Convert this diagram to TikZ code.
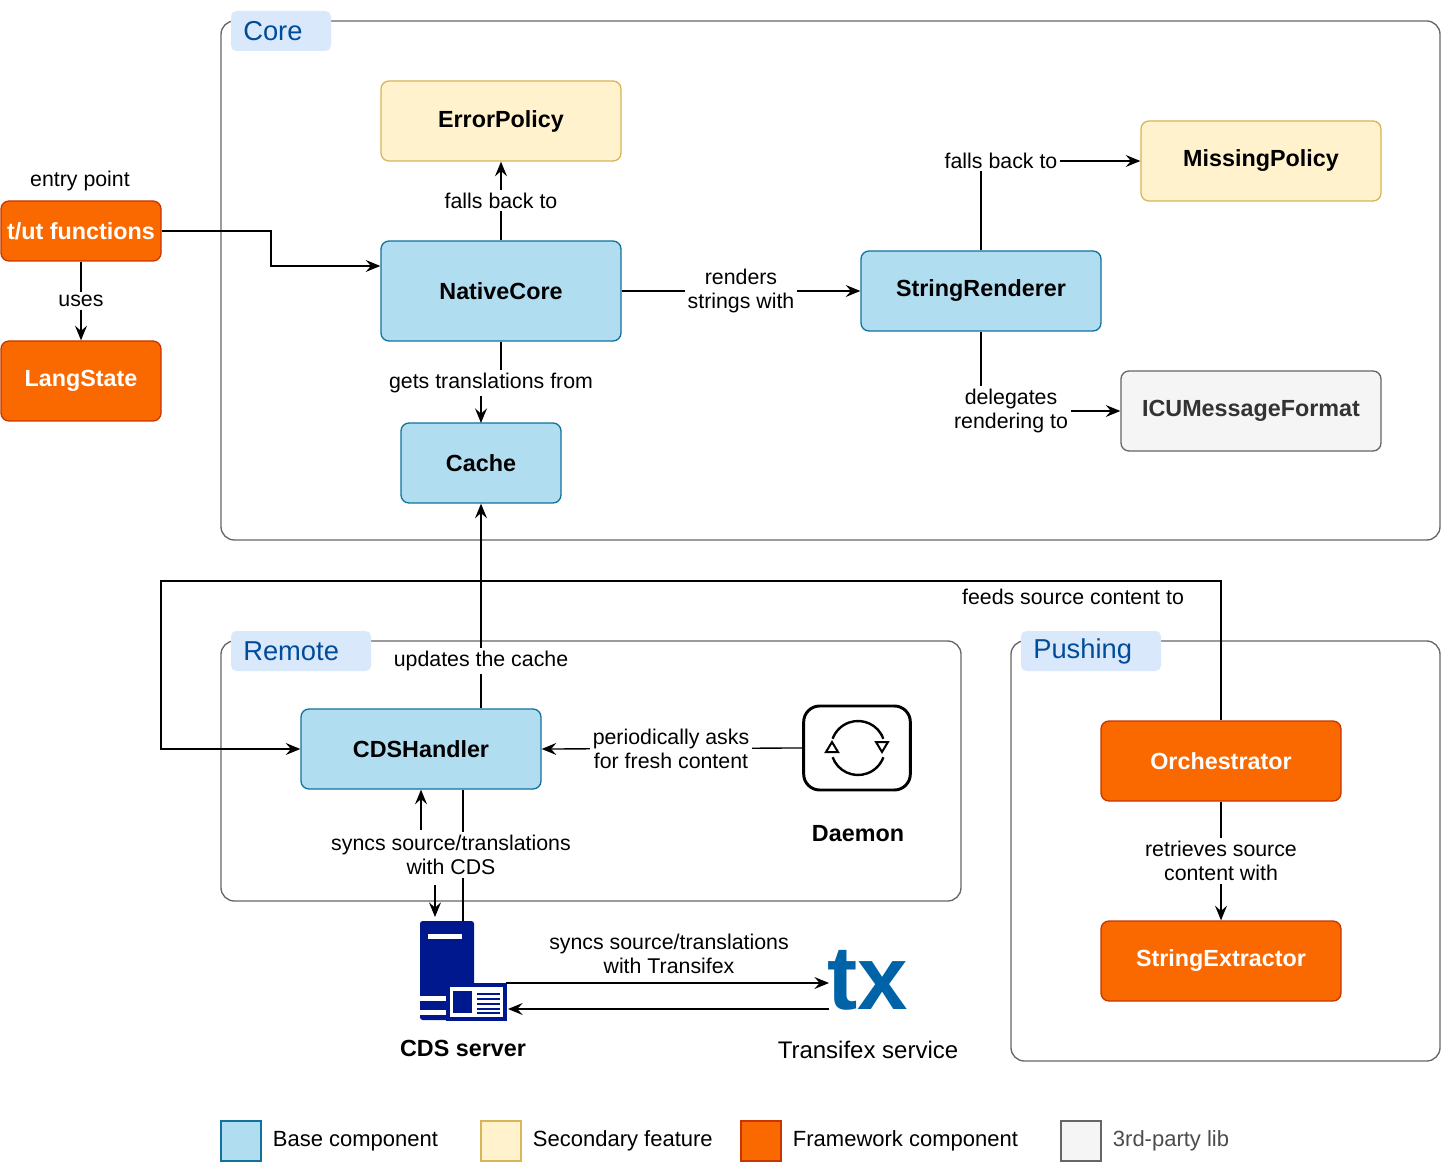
\documentclass[tikz,border=0pt]{standalone}
\usepackage{fontspec}
\setmainfont{Liberation Sans}
\usetikzlibrary{arrows.meta}
\definecolor{bfill}{HTML}{B1DDF0}\definecolor{bstroke}{HTML}{10739E}
\definecolor{yfill}{HTML}{FFF2CC}\definecolor{ystroke}{HTML}{D6B656}
\definecolor{ofill}{HTML}{FA6800}\definecolor{ostroke}{HTML}{C73500}
\definecolor{gfill}{HTML}{F5F5F5}\definecolor{gstroke}{HTML}{666666}
\definecolor{tabfill}{HTML}{DAE8FC}\definecolor{tabtext}{HTML}{004C99}
\definecolor{srv}{HTML}{00188D}\definecolor{txb}{HTML}{0063A8}
\begin{document}
\begin{tikzpicture}[x=0.75pt,y=-0.75pt,
 box/.style={draw,rounded corners=6pt,line width=1pt,font=\bfseries\fontsize{17.5}{20}\selectfont,inner sep=0pt},
 base/.style={box,fill=bfill,draw=bstroke},
 sec/.style={box,fill=yfill,draw=ystroke},
 fw/.style={box,fill=ofill,draw=ostroke,text=white},
 lib/.style={box,fill=gfill,draw=gstroke,text=black!80},
 cont/.style={draw=gstroke,rounded corners=10pt,line width=1pt},
 tab/.style={fill=tabfill,rounded corners=4pt,inner sep=0pt},
 tabt/.style={text=tabtext,font=\fontsize{20.5}{24}\selectfont,anchor=west,inner sep=0pt},
 lbl/.style={font=\fontsize{16}{18.5}\selectfont,align=center,inner sep=2pt},
 wl/.style={lbl,fill=white},
 arr/.style={-{Stealth[length=11pt,width=9pt,inset=4pt]},line width=1pt},
 ln/.style={line width=1pt}]
\useasboundingbox (0,0) rectangle (1442,1162);
% containers
\draw[cont] (221,21) rectangle (1440,540);
\node[tab,minimum width=75pt,minimum height=30pt] (coretab) at (281,31) {};
\node[tabt] at (243,31) {Core};
\draw[cont] (221,641) rectangle (961,901);
\node[tab,minimum width=105pt,minimum height=30pt] (remtab) at (301,651) {};
\node[tabt] at (243,651) {Remote};
\draw[cont] (1011,641) rectangle (1440,1061);
\node[tab,minimum width=105pt,minimum height=30pt] (pushtab) at (1091,651) {};
\node[tabt] at (1033,651) {Pushing};
% nodes
\node[sec,minimum width=180pt,minimum height=60pt] (err) at (501,121) {ErrorPolicy};
\node[sec,minimum width=180pt,minimum height=60pt] (miss) at (1261,161) {MissingPolicy};
\node[fw,minimum width=120pt,minimum height=45pt] (tut) at (81,231) {t/ut functions};
\node[fw,minimum width=120pt,minimum height=60pt] (lang) at (81,381) {LangState};
\node[base,minimum width=180pt,minimum height=75pt] (nc) at (501,291) {NativeCore};
\node[base,minimum width=180pt,minimum height=60pt] (sr) at (981,291) {StringRenderer};
\node[lib,minimum width=195pt,minimum height=60pt] (icu) at (1251,411) {ICUMessageFormat};
\node[base,minimum width=120pt,minimum height=60pt] (cache) at (481,463) {Cache};
\node[base,minimum width=180pt,minimum height=60pt] (cds) at (421,749) {CDSHandler};
\node[fw,minimum width=180pt,minimum height=60pt] (orch) at (1221,761) {Orchestrator};
\node[fw,minimum width=180pt,minimum height=60pt] (ext) at (1221,961) {StringExtractor};
% daemon icon
\node[draw,line width=2.2pt,rounded corners=12pt,minimum width=80pt,minimum height=63pt,inner sep=0pt] (dae) at (857,748) {};
\draw[line width=1.8pt] (858,748) ++(160:27) arc (160:20:27);
\draw[line width=1.8pt] (858,748) ++(-20:27) arc (-20:-160:27);
\draw[line width=1.5pt,fill=white] (826,752)--(832,742)--(838,752)--cycle;
\draw[line width=1.5pt,fill=white] (876,742)--(882,752)--(888,742)--cycle;
\node[font=\bfseries\fontsize{17.5}{20}\selectfont] (daelbl) at (858,834) {Daemon};
% server icon
\coordinate (srvtop) at (463,921);
\fill[srv,rounded corners=2pt] (420,921) rectangle (474,1020);
\fill[white] (428,934) rectangle (462,939);
\fill[white] (420,996) rectangle (446,1001);
\fill[white] (420,1010) rectangle (446,1015);
\fill[srv] (446,983) rectangle (507,1021);
\fill[white] (450,987) rectangle (503,1017);
\fill[srv] (453,991) rectangle (472,1013);
\foreach \yy in {993,998,1003,1008,1012} \fill[srv] (477,\yy) rectangle (500,\yy+2);
\node[font=\bfseries\fontsize{17.5}{20}\selectfont] (srvlbl) at (463,1048) {CDS server};
\coordinate (srvr1) at (506,983);\coordinate (srvr2) at (508,1009);
% tx logo
\node[text=txb,font=\bfseries\fontsize{68}{68}\selectfont,inner sep=0pt] (tx) at (868,980) {tx};
\coordinate (tx1) at (829,983);\coordinate (tx2) at (829,1009);
\node[lbl,font=\fontsize{18}{21}\selectfont] (txlbl) at (868,1050) {Transifex service};
% edges
\node[lbl] (ep) at (80,181) {entry point};
\draw[arr] (tut.east) -- (271,231) -- (271,266) -- (nc.west |- 0,266);
\draw[arr] (tut.south) -- (lang.north);
\node[wl] at (81,301) {uses};
\draw[arr] (nc.north) -- (err.south);
\node[wl] at (501,201) {falls back to};
\draw[arr] (nc.east) -- (sr.west);
\node[wl] at (741,291) {renders\\strings with};
\draw[arr] (sr.north) -- (981,161) -- (miss.west);
\node[wl] at (1001,161) {falls back to};
\draw[arr] (sr.south) -- (981,411) -- (icu.west);
\node[wl] at (1011,411) {delegates\\rendering to};
\draw[ln] (nc.south) -- (501,383) -- (481,383);
\draw[arr] (481,383) -- (cache.south |- 0,423);
\node[wl] at (491,383) {gets translations from};
\draw[arr] (cds.north -| 481,0) -- (cache.south);
\node[wl] at (481,661) {updates the cache};
\draw[arr] (orch.north) -- (1221,581) -- (161,581) -- (161,749) -- (cds.west);
\node[lbl] at (1073,597) {feeds source content to};
\draw[arr] (dae.west) -- (cds.east);
\node[wl] at (671,749) {periodically asks\\for fresh content};
\draw[ln] (cds.south -| 463,0) -- (srvtop);
\draw[arr] (421,830) -- (cds.south -| 421,0);
\draw[arr] (435,885) -- (435,917);
\node[wl] at (451,855) {syncs source/translations\\with CDS};
\draw[arr] (srvr1) -- (tx1);
\draw[arr] (tx2) -- (srvr2);
\node[lbl] at (669,954) {syncs source/translations\\with Transifex};
\draw[arr] (orch.south) -- (ext.north);
\node[wl] at (1221,861) {retrieves source\\content with};
% legend
\tikzset{leg/.style={draw,line width=1pt,minimum width=30pt,minimum height=30pt,inner sep=0pt},
 legt/.style={lbl,anchor=west,font=\fontsize{16.5}{19}\selectfont}}
\node[leg,fill=bfill,draw=bstroke] (l1) at (241,1141) {};
\node[legt] at (270,1141) {Base component};
\node[leg,fill=yfill,draw=ystroke] (l2) at (501,1141) {};
\node[legt] at (530,1141) {Secondary feature};
\node[leg,fill=ofill,draw=ostroke] (l3) at (761,1141) {};
\node[legt] at (790,1141) {Framework component};
\node[leg,fill=gfill,draw=gstroke] (l4) at (1081,1141) {};
\node[legt,text=black!70] at (1110,1141) {3rd-party lib};
\end{tikzpicture}
\end{document}
